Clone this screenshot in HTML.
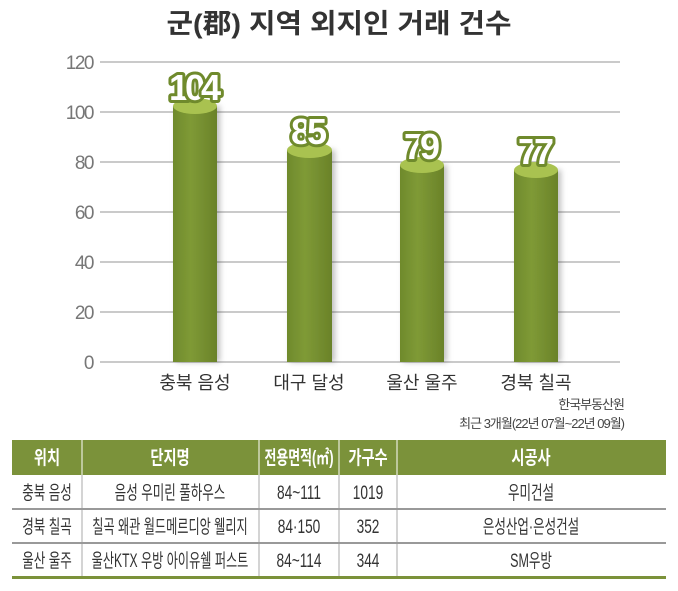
<!DOCTYPE html>
<html><head><meta charset="utf-8"><style>
body{margin:0;background:#fff;}
svg{display:block;font-family:"Liberation Sans","Noto Sans CJK KR",sans-serif;}
</style></head><body>
<svg width="678" height="591" viewBox="0 0 678 591">
<defs>
<linearGradient id="bg" x1="0" x2="1">
<stop offset="0" stop-color="#6f8a2c"/><stop offset="0.4" stop-color="#7f9a36"/><stop offset="1" stop-color="#6a8229"/>
</linearGradient>
<filter id="sh" x="-30%" y="-10%" width="160%" height="120%"><feDropShadow dx="3" dy="0" stdDeviation="3" flood-color="#000" flood-opacity="0.25"/></filter>
</defs>
<text x="339" y="33" text-anchor="middle" font-size="27" font-weight="bold" fill="#333" textLength="345" lengthAdjust="spacingAndGlyphs">군(郡) 지역 외지인 거래 건수</text>
<g stroke="#aaa" stroke-width="1.2">
<line x1="100" y1="62" x2="620" y2="62"/><line x1="100" y1="112" x2="620" y2="112"/>
<line x1="100" y1="162" x2="620" y2="162"/><line x1="100" y1="212" x2="620" y2="212"/>
<line x1="100" y1="262" x2="620" y2="262"/><line x1="100" y1="312" x2="620" y2="312"/>
<line x1="100" y1="362" x2="620" y2="362"/>
</g>
<g font-size="19" fill="#777" text-anchor="end" letter-spacing="-1.5">
<text x="93" y="69">120</text><text x="93" y="119">100</text><text x="93" y="169">80</text>
<text x="93" y="219">60</text><text x="93" y="269">40</text><text x="93" y="319">20</text><text x="93" y="369">0</text>
</g>
<g filter="url(#sh)">
<rect x="173" y="106" width="44" height="256" fill="url(#bg)"/>
<rect x="287" y="150" width="45" height="212" fill="url(#bg)"/>
<rect x="400" y="165" width="44" height="197" fill="url(#bg)"/>
<rect x="514" y="170" width="44" height="192" fill="url(#bg)"/>
</g>
<g fill="#a9c250">
<ellipse cx="195" cy="106" rx="22" ry="8"/><ellipse cx="309.5" cy="150" rx="22.5" ry="8"/>
<ellipse cx="422" cy="165" rx="22" ry="8"/><ellipse cx="536" cy="170" rx="22" ry="8"/>
</g>
<g font-size="36" font-weight="bold" text-anchor="middle" fill="#fff" stroke="#6f8a2c" stroke-width="6" paint-order="stroke" stroke-linejoin="round" lengthAdjust="spacingAndGlyphs">
<text x="195" y="100" textLength="52">104</text><text x="309" y="144" textLength="36">85</text><text x="422" y="159" textLength="36">79</text><text x="536" y="164" textLength="36">77</text>
</g>
<g font-size="18" fill="#333" text-anchor="middle">
<text x="195" y="389">충북 음성</text><text x="309" y="389">대구 달성</text>
<text x="422" y="389">울산 울주</text><text x="536" y="389">경북 칠곡</text>
</g>
<g font-size="13" fill="#444" text-anchor="end" letter-spacing="-1">
<text x="624" y="409">한국부동산원</text><text x="624" y="428">최근 3개월(22년 07월~22년 09월)</text>
</g>
<rect x="12" y="440" width="654" height="35" fill="#7b923a"/>
<g stroke="#fff" stroke-width="1"><line x1="82" y1="440" x2="82" y2="475"/><line x1="259" y1="440" x2="259" y2="475"/><line x1="339" y1="440" x2="339" y2="475"/><line x1="397" y1="440" x2="397" y2="475"/></g>
<g font-size="19" font-weight="bold" fill="#fff" text-anchor="middle">
<text transform="translate(47,464) scale(0.75,1)">위치</text><text transform="translate(170,464) scale(0.75,1)">단지명</text><text transform="translate(299,464) scale(0.68,1)">전용면적(㎡)</text><text transform="translate(368,464) scale(0.75,1)">가구수</text><text transform="translate(531,464) scale(0.75,1)">시공사</text>
</g>
<g stroke="#aaa" stroke-width="1"><line x1="82" y1="475" x2="82" y2="577"/><line x1="259" y1="475" x2="259" y2="577"/><line x1="339" y1="475" x2="339" y2="577"/><line x1="397" y1="475" x2="397" y2="577"/></g>
<g stroke="#999" stroke-width="2"><line x1="12" y1="509" x2="666" y2="509"/><line x1="12" y1="543" x2="666" y2="543"/></g>
<rect x="12" y="576" width="654" height="3" fill="#7b923a"/>
<g font-size="19" fill="#333" text-anchor="middle">
<text transform="translate(47,499) scale(0.66,1)">충북 음성</text><text transform="translate(170,499) scale(0.66,1)">음성 우미린 풀하우스</text><text transform="translate(299,499) scale(0.72,1)">84~111</text><text transform="translate(368,499) scale(0.72,1)">1019</text><text transform="translate(531,499) scale(0.66,1)">우미건설</text>
<text transform="translate(47,533) scale(0.66,1)">경북 칠곡</text><text transform="translate(170,533) scale(0.64,1)">칠곡 왜관 월드메르디앙 웰리지</text><text transform="translate(299,533) scale(0.72,1)">84·150</text><text transform="translate(368,533) scale(0.72,1)">352</text><text transform="translate(531,533) scale(0.66,1)">은성산업·은성건설</text>
<text transform="translate(47,567) scale(0.66,1)">울산 울주</text><text transform="translate(170,567) scale(0.64,1)">울산KTX 우방 아이유쉘 퍼스트</text><text transform="translate(299,567) scale(0.72,1)">84~114</text><text transform="translate(368,567) scale(0.72,1)">344</text><text transform="translate(531,567) scale(0.66,1)">SM우방</text>
</g>
</svg>
</body></html>
